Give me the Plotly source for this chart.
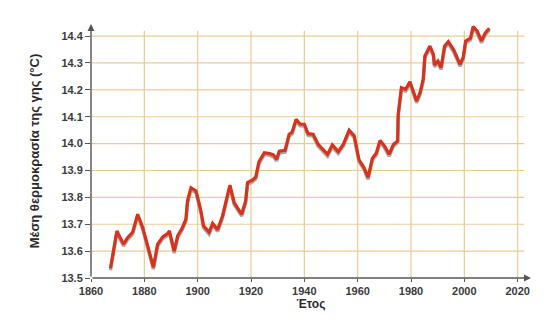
import plotly.graph_objects as go

years = [1867.3, 1869.7, 1872.2, 1873.7, 1875.6, 1877.5, 1879.4, 1881.2, 1883.4, 1885.0,
         1886.9, 1888.7, 1889.4, 1891.2, 1892.5, 1894.3, 1895.6, 1896.2, 1897.5, 1899.4,
         1901.2, 1902.2, 1904.3, 1905.6, 1907.5, 1909.3, 1910.6, 1912.1, 1913.7, 1915.0,
         1916.5, 1918.0, 1918.7, 1920.6, 1921.8, 1923.0, 1925.0, 1927.0, 1928.4, 1929.6,
         1930.6, 1932.8, 1934.3, 1935.4, 1936.9, 1938.4, 1940.0, 1941.4, 1943.3, 1945.2,
         1946.8, 1948.7, 1950.5, 1952.7, 1954.6, 1956.8, 1958.7, 1959.6, 1960.5, 1962.4,
         1963.9, 1965.5, 1967.0, 1968.4, 1970.1, 1971.8, 1973.4, 1975.0, 1975.2, 1976.4,
         1978.0, 1979.6, 1980.5, 1982.1, 1983.4, 1984.6, 1985.2, 1987.1, 1988.4, 1988.8,
         1990.1, 1991.3, 1992.6, 1994.0, 1996.1, 1998.4, 1999.6, 2000.5, 2002.3, 2003.3,
         2004.8, 2006.4, 2007.9, 2009.4]
temps = [13.536, 13.675, 13.626, 13.650, 13.670, 13.737, 13.688, 13.626, 13.540, 13.626,
         13.653, 13.665, 13.675, 13.600, 13.657, 13.688, 13.719, 13.787, 13.836, 13.824,
         13.750, 13.694, 13.670, 13.703, 13.680, 13.730, 13.787, 13.846, 13.780, 13.760,
         13.737, 13.787, 13.855, 13.865, 13.876, 13.933, 13.966, 13.963, 13.958, 13.942,
         13.972, 13.975, 14.035, 14.042, 14.090, 14.073, 14.072, 14.037, 14.035, 13.997,
         13.979, 13.960, 13.995, 13.970, 13.997, 14.050, 14.029, 13.985, 13.940, 13.910,
         13.874, 13.945, 13.965, 14.012, 13.991, 13.960, 13.997, 14.010, 14.109, 14.208,
         14.202, 14.230, 14.202, 14.159, 14.190, 14.240, 14.326, 14.363, 14.332, 14.293,
         14.307, 14.283, 14.363, 14.379, 14.347, 14.295, 14.322, 14.382, 14.392, 14.435,
         14.419, 14.382, 14.413, 14.429]

x_ticks = [1860, 1880, 1900, 1920, 1940, 1960, 1980, 2000, 2020]
y_ticks = [13.5, 13.6, 13.7, 13.8, 13.9, 14.0, 14.1, 14.2, 14.3, 14.4]

grid_color = "#e8cc96"
axis_color = "#555555"
shadow_offset = 0.007

fig = go.Figure()
fig.add_trace(go.Scatter(x=years, y=[t - shadow_offset for t in temps], mode="lines",
                         line=dict(color="#a8a8a8", width=3.4), hoverinfo="skip", showlegend=False))
fig.add_trace(go.Scatter(x=years, y=temps, mode="lines",
                         line=dict(color="#d9321c", width=3.2), showlegend=False))

shapes = []
for xv in x_ticks[1:]:
    shapes.append(dict(type="line", xref="x", yref="y", x0=xv, x1=xv, y0=13.5, y1=14.42,
                       line=dict(color=grid_color, width=1.2), layer="below"))
for yv in y_ticks[1:]:
    shapes.append(dict(type="line", xref="x", yref="y", x0=1860, x1=2022.5, y0=yv, y1=yv,
                       line=dict(color=grid_color, width=1.2), layer="below"))
fig.update_layout(shapes=shapes)

# axis arrows
fig.add_annotation(x=2025, y=13.5, ax=1860, ay=13.5, xref="x", yref="y", axref="x", ayref="y",
                   showarrow=True, arrowhead=2, arrowsize=1, arrowwidth=1.4, arrowcolor=axis_color, text="")
fig.add_annotation(x=1860, y=14.445, ax=1860, ay=13.5, xref="x", yref="y", axref="x", ayref="y",
                   showarrow=True, arrowhead=2, arrowsize=1, arrowwidth=1.4, arrowcolor=axis_color, text="")

tick_font = dict(family="Liberation Sans, Arial, sans-serif", size=11, color="#3a3a3a")
fig.update_layout(
    width=553, height=323,
    margin=dict(l=83, r=30, t=16, b=52.5),
    paper_bgcolor="white", plot_bgcolor="white",
    font=dict(family="Liberation Sans, Arial, sans-serif"),
    xaxis=dict(range=[1860, 2025], tickvals=x_ticks, ticktext=[str(v) for v in x_ticks],
               showgrid=False, zeroline=False, showline=False,
               ticks="outside", ticklen=3, tickcolor=axis_color,
               tickfont=dict(tick_font, weight="bold"),
               title=dict(text="Έτος", font=dict(family="Liberation Sans, Arial, sans-serif", size=12,
                                                   color="#2a2a2a", weight="bold"), standoff=2)),
    yaxis=dict(range=[13.5, 14.445], tickvals=y_ticks, ticktext=[f"{v:.1f}" for v in y_ticks],
               showgrid=False, zeroline=False, showline=False,
               ticks="outside", ticklen=5, tickcolor=axis_color,
               tickfont=dict(tick_font, weight="bold"),
               title=dict(text="Μέση θερμοκρασία της γης (°C)",
                          font=dict(family="Liberation Sans, Arial, sans-serif", size=13,
                                    color="#2a2a2a", weight="bold"), standoff=18)),
)

fig.write_html("out.html")
